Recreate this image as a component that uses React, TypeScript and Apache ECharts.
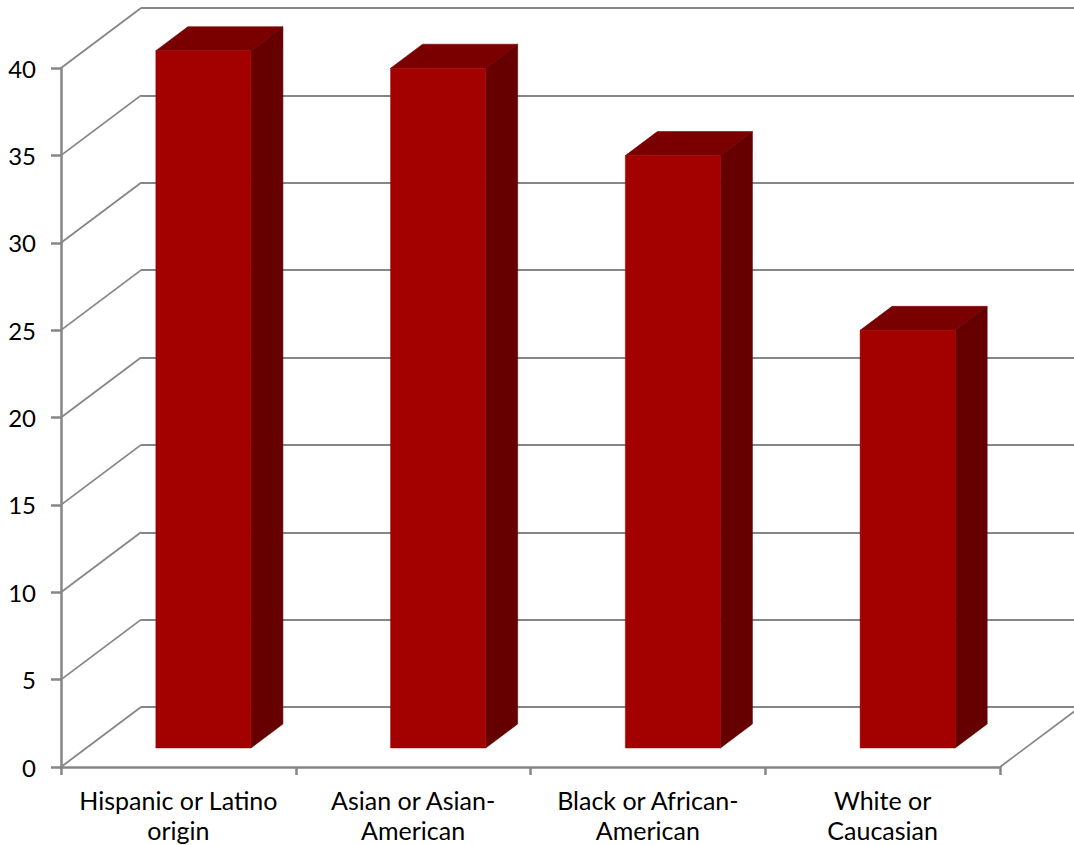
import React, { useEffect, useRef } from "react";
import * as echarts from "echarts";

const categories = [
  "Hispanic or Latino\norigin",
  "Asian or Asian-\nAmerican",
  "Black or African-\nAmerican",
  "White or\nCaucasian",
];
const values = [39.9, 38.9, 33.9, 23.9];
const yTicks = [0, 5, 10, 15, 20, 25, 30, 35, 40];

const AXIS = "#868686";
const WALL = [80, -60];
const FLOOR = [25, -19];
const DEPTH = [32, -24];
const BAR_RATIO = 0.405;
const BAR_SHIFT = 25;

export default function App() {
  const ref = useRef<HTMLDivElement>(null);
  useEffect(() => {
    const chart = echarts.init(ref.current!, null, { renderer: "svg" });
    const font = "Lato";
    chart.setOption({
      animation: false,
      backgroundColor: "#ffffff",
      grid: [
        { left: 61, top: 68, width: 939, height: 699, outerBoundsMode: "none" },
        { left: 141, top: 8, width: 939, height: 699, outerBoundsMode: "none" },
      ],
      xAxis: [
        {
          type: "category",
          gridIndex: 0,
          data: categories,
          boundaryGap: true,
          axisLine: { lineStyle: { color: AXIS, width: 2.5 } },
          axisTick: { show: true, alignWithLabel: false, length: 8, lineStyle: { color: AXIS, width: 2.5 } },
          axisLabel: { interval: 0, color: "#000", fontFamily: font, fontSize: 25, lineHeight: 30, margin: 18 },
          splitLine: { show: false },
        },
        { type: "value", gridIndex: 1, min: 0, max: 1, show: false },
      ],
      yAxis: [
        {
          type: "value",
          gridIndex: 0,
          min: 0,
          max: 40,
          interval: 5,
          axisLine: { show: true, lineStyle: { color: AXIS, width: 2.5 } },
          axisTick: { show: true, length: 10, lineStyle: { color: AXIS, width: 2.5 } },
          axisLabel: { color: "#000", fontFamily: font, fontSize: 24, margin: 25 },
          splitLine: { show: false },
        },
        {
          type: "value",
          gridIndex: 1,
          min: 0,
          max: 40,
          interval: 5,
          axisLine: { show: false },
          axisTick: { show: false },
          axisLabel: { show: false },
          splitLine: { show: true, lineStyle: { color: AXIS, width: 2.2 } },
        },
      ],
      series: [
        {
          type: "custom",
          xAxisIndex: 0,
          yAxisIndex: 0,
          z: 1,
          silent: true,
          clip: false,
          data: [
            ...yTicks.map((v) => [0, v, -1]),
            [categories.length - 1, 0, 1],
          ],
          renderItem: (_p: any, api: any) => {
            const c = api.coord([api.value(0), api.value(1)]);
            const half = api.size([1, 0])[0] / 2;
            const x = c[0] + api.value(2) * half;
            return {
              type: "line",
              shape: { x1: x, y1: c[1], x2: x + WALL[0], y2: c[1] + WALL[1] },
              style: { stroke: AXIS, lineWidth: 1.8 },
            };
          },
        },
        {
          type: "custom",
          xAxisIndex: 0,
          yAxisIndex: 0,
          z: 3,
          silent: true,
          clip: false,
          data: values.map((v, i) => [i, v]),
          renderItem: (_p: any, api: any) => {
            const top = api.coord([api.value(0), api.value(1)]);
            const base = api.coord([api.value(0), 0]);
            const band = api.size([1, 0])[0];
            const w = band * BAR_RATIO;
            const x0 = top[0] + BAR_SHIFT - w / 2;
            const x1 = x0 + w;
            const yT = top[1] + FLOOR[1];
            const yB = base[1] + FLOOR[1];
            const [dx, dy] = DEPTH;
            return {
              type: "group",
              children: [
                {
                  type: "polygon",
                  shape: { points: [[x0, yT], [x0 + dx, yT + dy], [x1 + dx, yT + dy], [x1, yT]] },
                  style: { fill: "#7a0000", stroke: "#7a0000", lineWidth: 0.6 },
                },
                {
                  type: "polygon",
                  shape: { points: [[x1, yT], [x1 + dx, yT + dy], [x1 + dx, yB + dy], [x1, yB]] },
                  style: { fill: "#660000", stroke: "#660000", lineWidth: 0.6 },
                },
                {
                  type: "rect",
                  shape: { x: x0, y: yT, width: w, height: yB - yT },
                  style: { fill: "#a30000", stroke: "#a30000", lineWidth: 0.5 },
                },
              ],
            };
          },
        },
      ],
    });
    return () => chart.dispose();
  }, []);
  return (
    <div
      ref={ref}
      style={{ position: "absolute", left: 0, top: 0, width: 1074, height: 845 }}
    />
  );
}
